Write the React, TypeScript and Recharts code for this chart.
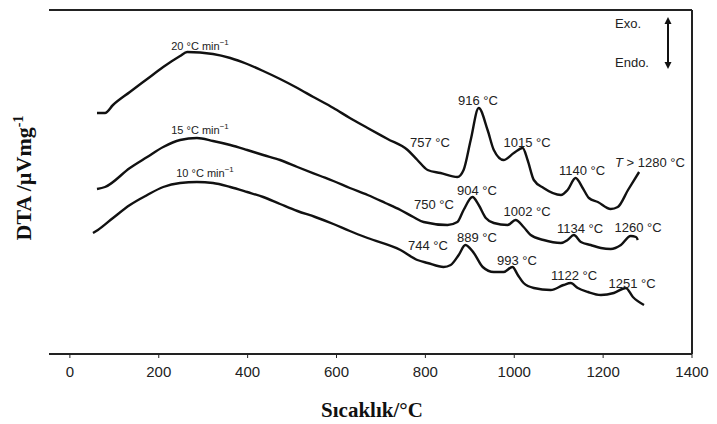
import { LineChart, Line, XAxis, YAxis, ReferenceLine } from "recharts";

// temperature (°C) vs DTA signal (arbitrary units)
const xTicks = [0, 200, 400, 600, 800, 1000, 1200, 1400];

const rate20 = [
  { t: 61, v: 241 }, { t: 79, v: 241 }, { t: 97, v: 249 }, { t: 135, v: 262 },
  { t: 174, v: 275 }, { t: 210, v: 287 }, { t: 248, v: 298 }, { t: 264, v: 302 },
  { t: 322, v: 300 }, { t: 361, v: 296 }, { t: 399, v: 290 }, { t: 435, v: 283 },
  { t: 473, v: 275 }, { t: 512, v: 266 }, { t: 548, v: 257 }, { t: 593, v: 246 },
  { t: 630, v: 236 }, { t: 670, v: 226 }, { t: 715, v: 215 }, { t: 760, v: 204 },
  { t: 782, v: 194 }, { t: 805, v: 184 }, { t: 834, v: 181 }, { t: 872, v: 177 },
  { t: 886, v: 184 }, { t: 902, v: 214 }, { t: 920, v: 246 }, { t: 940, v: 224 },
  { t: 954, v: 204 }, { t: 976, v: 194 }, { t: 999, v: 201 }, { t: 1019, v: 206 },
  { t: 1030, v: 194 }, { t: 1044, v: 174 }, { t: 1066, v: 166 }, { t: 1105, v: 159 },
  { t: 1120, v: 164 }, { t: 1138, v: 176 }, { t: 1154, v: 166 }, { t: 1168, v: 156 },
  { t: 1188, v: 152 }, { t: 1217, v: 145 }, { t: 1233, v: 147 }, { t: 1256, v: 164 },
  { t: 1281, v: 182 },
];

const rate15 = [
  { t: 61, v: 165 }, { t: 79, v: 167 }, { t: 135, v: 186 }, { t: 174, v: 197 },
  { t: 210, v: 207 }, { t: 248, v: 214 }, { t: 286, v: 216 }, { t: 322, v: 213 },
  { t: 361, v: 209 }, { t: 399, v: 204 }, { t: 435, v: 199 }, { t: 473, v: 194 },
  { t: 512, v: 187 }, { t: 564, v: 178 }, { t: 593, v: 173 }, { t: 630, v: 166 },
  { t: 670, v: 159 }, { t: 710, v: 151 }, { t: 744, v: 144 }, { t: 773, v: 137 },
  { t: 796, v: 132 }, { t: 850, v: 129 }, { t: 872, v: 132 }, { t: 886, v: 144 },
  { t: 906, v: 157 }, { t: 920, v: 149 }, { t: 936, v: 136 }, { t: 954, v: 131 },
  { t: 985, v: 129 }, { t: 1003, v: 134 }, { t: 1021, v: 127 }, { t: 1037, v: 119 },
  { t: 1066, v: 114 }, { t: 1105, v: 111 }, { t: 1120, v: 114 }, { t: 1134, v: 119 },
  { t: 1150, v: 112 }, { t: 1172, v: 109 }, { t: 1195, v: 106 }, { t: 1217, v: 105 },
  { t: 1240, v: 109 }, { t: 1262, v: 118 }, { t: 1274, v: 117 }, { t: 1278, v: 114 },
];

const rate10 = [
  { t: 52, v: 121 }, { t: 63, v: 124 }, { t: 97, v: 136 }, { t: 135, v: 149 },
  { t: 174, v: 159 }, { t: 210, v: 167 }, { t: 248, v: 171 }, { t: 286, v: 172 },
  { t: 322, v: 171 }, { t: 361, v: 167 }, { t: 399, v: 162 }, { t: 435, v: 157 },
  { t: 473, v: 150 }, { t: 512, v: 143 }, { t: 552, v: 137 }, { t: 593, v: 130 },
  { t: 630, v: 123 }, { t: 670, v: 116 }, { t: 744, v: 104 }, { t: 782, v: 94 },
  { t: 805, v: 91 }, { t: 841, v: 87 }, { t: 857, v: 89 }, { t: 875, v: 99 },
  { t: 890, v: 109 }, { t: 909, v: 101 }, { t: 929, v: 87 }, { t: 954, v: 82 },
  { t: 976, v: 82 }, { t: 996, v: 87 }, { t: 1008, v: 79 }, { t: 1021, v: 71 },
  { t: 1044, v: 66 }, { t: 1082, v: 64 }, { t: 1111, v: 69 }, { t: 1127, v: 71 },
  { t: 1143, v: 66 }, { t: 1166, v: 62 }, { t: 1195, v: 59 }, { t: 1224, v: 61 },
  { t: 1251, v: 66 }, { t: 1267, v: 57 }, { t: 1292, v: 49 },
];

const peakLabels = [
  { text: "757 °C", x: 430, y: 142 },
  { text: "916 °C", x: 478, y: 100 },
  { text: "1015 °C", x: 527, y: 142 },
  { text: "1140 °C", x: 582, y: 170 },
  { text: "750 °C", x: 434, y: 204 },
  { text: "904 °C", x: 477, y: 190 },
  { text: "1002 °C", x: 527, y: 211 },
  { text: "1134 °C", x: 580, y: 228 },
  { text: "1260 °C", x: 638, y: 227 },
  { text: "744 °C", x: 428, y: 245 },
  { text: "889 °C", x: 477, y: 237 },
  { text: "993 °C", x: 517, y: 260 },
  { text: "1122 °C", x: 574, y: 275 },
  { text: "1251 °C", x: 632, y: 283 },
];

const rateLabels = [
  { rate: "20", x: 200, y: 46 },
  { rate: "15", x: 200, y: 130 },
  { rate: "10", x: 205, y: 173 },
];

const sans = "'Liberation Sans', Arial, sans-serif";
const serif = "'Liberation Serif', 'Times New Roman', serif";

export default function App() {
  return (
    <div style={{ position: "absolute", left: 0, top: 0, width: 717, height: 424, background: "#fff" }}>
      <LineChart width={717} height={424} data={rate20} margin={{ top: 10, right: 25, bottom: 40, left: 49 }}>
        <XAxis
          type="number"
          dataKey="t"
          domain={[-47, 1400]}
          ticks={xTicks}
          allowDataOverflow
          height={30}
          tickSize={4}
          tickMargin={8}
          tick={{ fontSize: 15, fill: "#222", fontFamily: sans }}
          axisLine={{ stroke: "#222", strokeWidth: 2 }}
          tickLine={{ stroke: "#222" }}
        />
        <YAxis
          type="number"
          domain={[0, 344]}
          width={0}
          tick={false}
          tickLine={false}
          axisLine={{ stroke: "#222", strokeWidth: 2 }}
        />
        <ReferenceLine y={344} stroke="#222" strokeWidth={2} />
        <ReferenceLine x={1400} stroke="#222" strokeWidth={2} />
        <Line data={rate20} dataKey="v" type="monotone" stroke="#111" strokeWidth={2.4} dot={false} isAnimationActive={false} />
        <Line data={rate15} dataKey="v" type="monotone" stroke="#111" strokeWidth={2.4} dot={false} isAnimationActive={false} />
        <Line data={rate10} dataKey="v" type="monotone" stroke="#111" strokeWidth={2.4} dot={false} isAnimationActive={false} />
      </LineChart>

      <svg width={717} height={424} style={{ position: "absolute", left: 0, top: 0, pointerEvents: "none" }}>
        {rateLabels.map((r) => (
          <text key={r.rate} x={r.x} y={r.y} textAnchor="middle" dominantBaseline="central" fontFamily={sans} fontSize={11} fill="#222">
            {r.rate} °C min
            <tspan dy={-4} fontSize={8}>−1</tspan>
          </text>
        ))}
        {peakLabels.map((p) => (
          <text key={p.text + p.y} x={p.x} y={p.y} textAnchor="middle" dominantBaseline="central" fontFamily={sans} fontSize={13} fill="#222">
            {p.text}
          </text>
        ))}
        <text x={650} y={162} textAnchor="middle" dominantBaseline="central" fontFamily={sans} fontSize={13} fill="#222">
          <tspan fontStyle="italic">T</tspan> &gt; 1280 °C
        </text>
        <text x={615} y={23} dominantBaseline="central" fontFamily={sans} fontSize={13} fill="#222">Exo.</text>
        <text x={615} y={62} dominantBaseline="central" fontFamily={sans} fontSize={13} fill="#222">Endo.</text>
        <line x1={668} y1={22} x2={668} y2={64} stroke="#111" strokeWidth={2} />
        <polygon points="668,17 664.5,24 671.5,24" fill="#111" />
        <polygon points="668,69 664.5,62 671.5,62" fill="#111" />
        <text x={372} y={417} textAnchor="middle" fontFamily={serif} fontSize={21} fontWeight="bold" fill="#111">
          Sıcaklık/°C
        </text>
      </svg>

      <div
        style={{
          position: "absolute",
          left: 24,
          top: 178,
          transform: "translate(-50%, -50%) rotate(-90deg)",
          whiteSpace: "nowrap",
          fontFamily: serif,
          fontWeight: "bold",
          fontSize: 22,
          color: "#111",
        }}
      >
        DTA /µVmg<sup style={{ fontSize: 14 }}>-1</sup>
      </div>
    </div>
  );
}
